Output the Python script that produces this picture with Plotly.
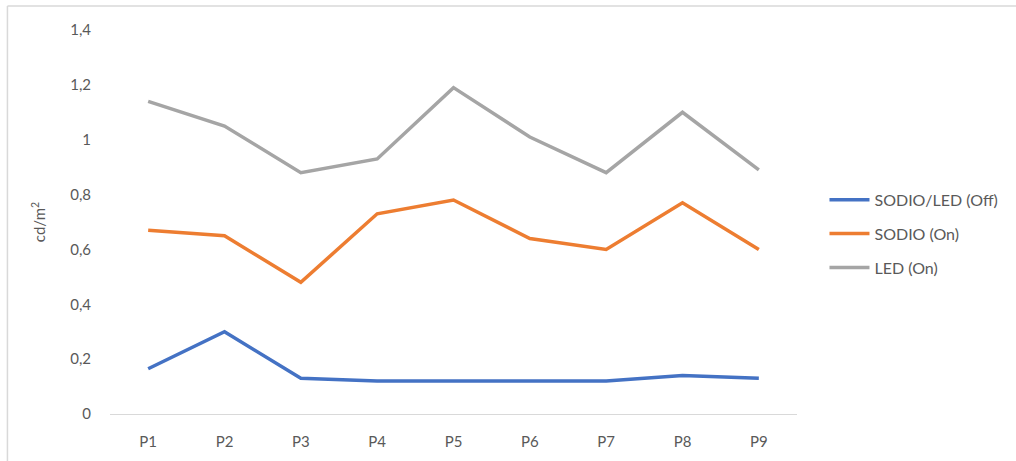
import plotly.graph_objects as go

categories = ["P1", "P2", "P3", "P4", "P5", "P6", "P7", "P8", "P9"]
off_vals = [0.165, 0.30, 0.13, 0.12, 0.12, 0.12, 0.12, 0.14, 0.13]
sodio_vals = [0.67, 0.65, 0.48, 0.73, 0.78, 0.64, 0.60, 0.77, 0.60]
led_vals = [1.14, 1.05, 0.88, 0.93, 1.19, 1.01, 0.88, 1.10, 0.89]
series_names = ["SODIO/LED (Off)", "SODIO (On)", "LED (On)"]
colors = ["#4472C4", "#ED7D31", "#A5A5A5"]
y_ticks = [0, 0.2, 0.4, 0.6, 0.8, 1.0, 1.2, 1.4]
y_labels = ["0", "0,2", "0,4", "0,6", "0,8", "1", "1,2", "1,4"]

fig = go.Figure()
for i, (name, vals) in enumerate(zip(series_names, [off_vals, sodio_vals, led_vals])):
    fig.add_trace(go.Scatter(
        x=categories, y=vals, mode="lines", name=name,
        legendgroup=f"g{i}",
        line=dict(color=colors[i], width=3.5),
    ))

font_family = "Lato, Open Sans, sans-serif"
fig.update_layout(
    width=1016, height=461,
    margin=dict(l=110, r=216, t=30, b=47),
    paper_bgcolor="white", plot_bgcolor="white",
    font=dict(family=font_family, size=15, color="#595959"),
    showlegend=True,
    legend=dict(
        x=1.04, y=0.469, xanchor="left", yanchor="middle",
        font=dict(size=16, color="#595959"),
        traceorder="grouped", tracegroupgap=10,
        itemwidth=40, bgcolor="rgba(0,0,0,0)",
    ),
    xaxis=dict(
        type="category", range=[-0.5, 8.5], showgrid=False, showline=True,
        linecolor="#D9D9D9", linewidth=1, ticks="",
        tickfont=dict(size=15, color="#595959"), ticklabelstandoff=14,
        zeroline=False,
    ),
    yaxis=dict(
        range=[0, 1.4], tickvals=y_ticks, ticktext=y_labels,
        showgrid=False, showline=False, zeroline=False, ticks="",
        tickfont=dict(size=15, color="#595959"), ticklabelstandoff=18,
        title=dict(text="cd/m<sup>2</sup>", font=dict(size=15, color="#595959"), standoff=20),
    ),
    shapes=[
        dict(type="line", xref="paper", yref="paper",
             x0=-0.1493, x1=1.33, y0=1.0625, y1=1.0625,
             line=dict(color="#D9D9D9", width=1.5)),
        dict(type="line", xref="paper", yref="paper",
             x0=-0.1493, x1=-0.1493, y0=1.0625, y1=-0.15,
             line=dict(color="#D9D9D9", width=1.5)),
    ],
)

fig.write_html("out.html", config={"displayModeBar": False},
               post_script="document.body.style.margin='0px';")
